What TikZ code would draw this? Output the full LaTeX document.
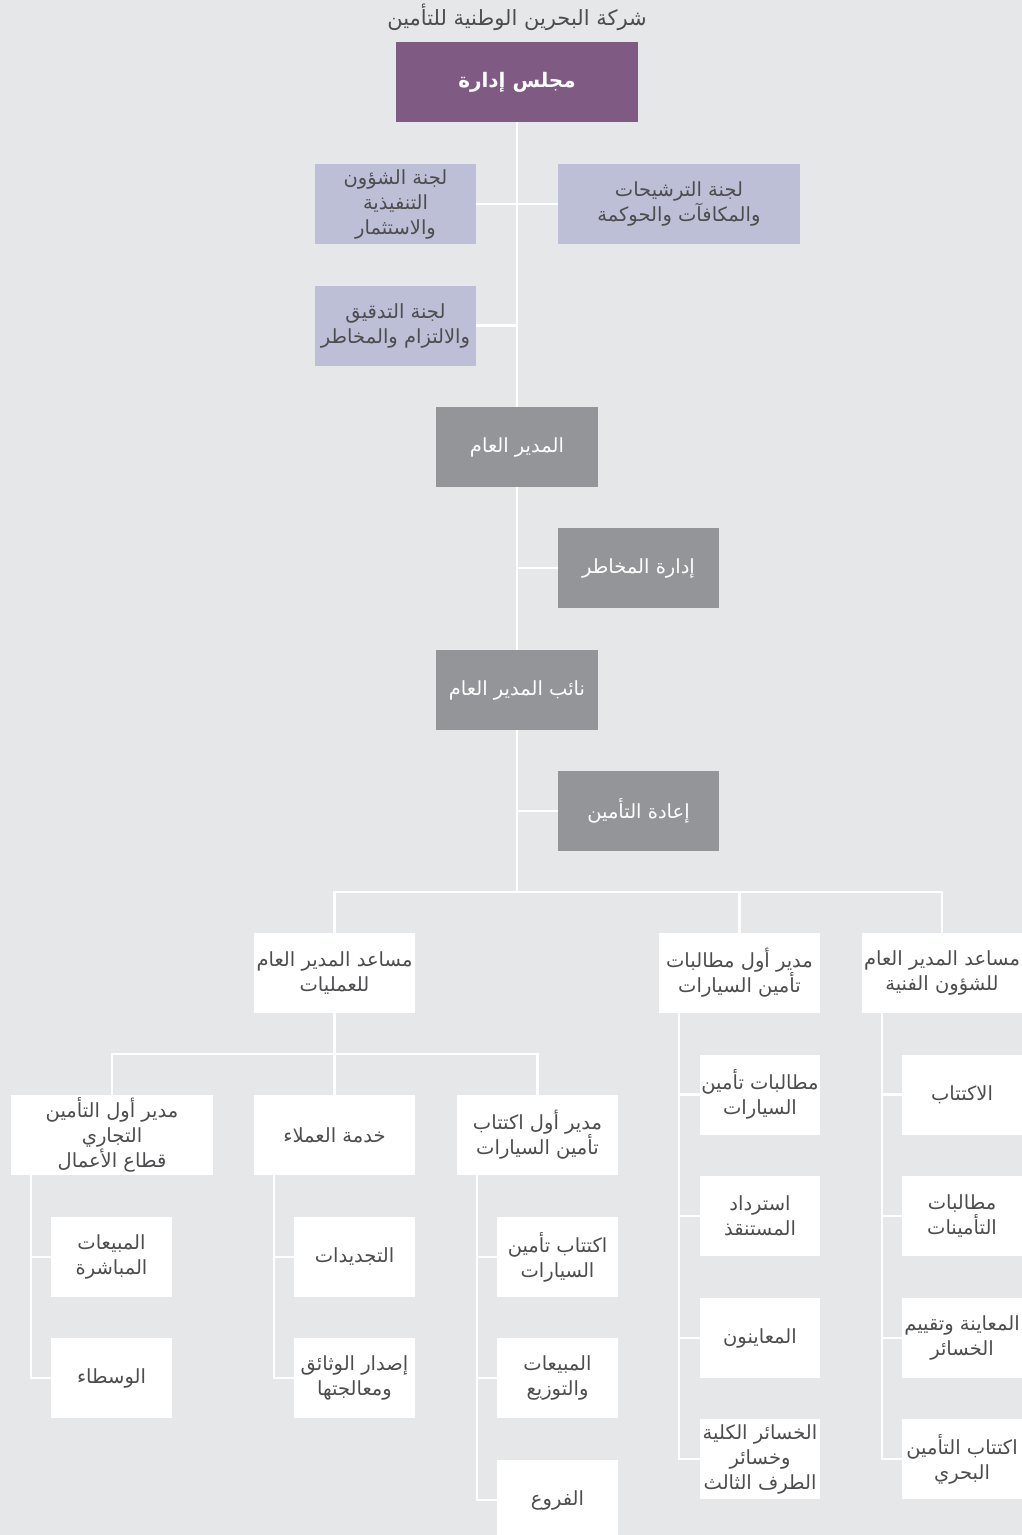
\documentclass[tikz,border=0pt]{standalone}
\usepackage{fontspec}
\newfontfamily\arabicfont[Script=Arabic]{DejaVu Sans}
\TeXXeTstate=1
\newcommand{\ar}[1]{\beginR #1\endR}
\definecolor{bgc}{HTML}{E6E7E9}
\definecolor{purp}{HTML}{7F5B84}
\definecolor{lav}{HTML}{BDBFD6}
\definecolor{grayb}{HTML}{939598}
\definecolor{txt}{HTML}{4D4D4F}
\tikzset{
  conn/.style={draw=white, line width=2.5pt},
  base/.style={rectangle, inner sep=0pt, align=center, text=txt,
    font=\arabicfont\fontsize{19.5}{25}\selectfont, minimum height=80pt},
  wbox/.style={base, fill=white, minimum width=161pt},
  sbox/.style={base, fill=white, minimum width=121pt},
  lbox/.style={base, fill=lav, minimum width=161pt},
  gbox/.style={base, fill=grayb, text=white, minimum width=162pt},
  pbox/.style={base, fill=purp, text=white, minimum width=242pt,
    font=\arabicfont\bfseries\fontsize{20}{25}\selectfont},
}
\begin{document}
\begin{tikzpicture}[x=1pt,y=-1pt]
\useasboundingbox (0,0) rectangle (1022,1535);
\fill[bgc] (0,0) rectangle (1022,1535);
\clip (0,0) rectangle (1022,1535);

% title
\node[base, minimum height=0pt, font=\arabicfont\fontsize{21}{25}\selectfont] (title) at (517,17) {\ar{شركة البحرين الوطنية للتأمين}};

% top chain
\node[pbox] (board) at (517,82) {\ar{مجلس إدارة}};
\node[lbox] (c1) at (395.5,204) {\ar{لجنة الشؤون}\\\ar{التنفيذية}\\\ar{والاستثمار}};
\node[lbox, minimum width=242pt] (c2) at (679,204) {\ar{لجنة الترشيحات}\\\ar{والمكافآت والحوكمة}};
\node[lbox] (c3) at (395.5,325.5) {\ar{لجنة التدقيق}\\\ar{والالتزام والمخاطر}};
\node[gbox] (gm) at (517,447) {\ar{المدير العام}};
\node[gbox, minimum width=161pt] (risk) at (638.5,568) {\ar{إدارة المخاطر}};
\node[gbox] (dgm) at (517,690) {\ar{نائب المدير العام}};
\node[gbox, minimum width=161pt] (reins) at (638.5,811) {\ar{إعادة التأمين}};

\coordinate (jn) at (517,892);
\coordinate (t1) at (517,325.5);
\coordinate (t2) at (517,568);
\coordinate (t3) at (517,811);

% level 2
\node[wbox] (ops) at (334.5,973) {\ar{مساعد المدير العام}\\\ar{للعمليات}};
\node[wbox] (mcl) at (739.5,973) {\ar{مدير أول مطالبات}\\\ar{تأمين السيارات}};
\node[wbox, minimum width=160pt] (tech) at (942,973) {\ar{مساعد المدير العام}\\\ar{للشؤون الفنية}};

% level 3 (operations)
\coordinate (opsj) at (334.5,1054);
\node[wbox, minimum width=202pt] (comm) at (112,1135) {\ar{مدير أول التأمين}\\\ar{التجاري}\\\ar{قطاع الأعمال}};
\node[wbox] (cs) at (334.5,1135) {\ar{خدمة العملاء}};
\node[wbox] (muw) at (537.5,1135) {\ar{مدير أول اكتتاب}\\\ar{تأمين السيارات}};

% commercial children
\node[sbox] (cm1) at (111.5,1257) {\ar{المبيعات}\\\ar{المباشرة}};
\node[sbox] (cm2) at (111.5,1378) {\ar{الوسطاء}};
% customer service children
\node[sbox] (cs1) at (354.5,1257) {\ar{التجديدات}};
\node[sbox] (cs2) at (354.5,1378) {\ar{إصدار الوثائق}\\\ar{ومعالجتها}};
% motor underwriting children
\node[sbox] (mu1) at (557.5,1257) {\ar{اكتتاب تأمين}\\\ar{السيارات}};
\node[sbox] (mu2) at (557.5,1378) {\ar{المبيعات}\\\ar{والتوزيع}};
\node[sbox] (mu3) at (557.5,1500) {\ar{الفروع}};
% motor claims children
\node[sbox, minimum width=120pt] (mc1) at (760,1094.5) {\ar{مطالبات تأمين}\\\ar{السيارات}};
\node[sbox, minimum width=120pt] (mc2) at (760,1216) {\ar{استرداد}\\\ar{المستنقذ}};
\node[sbox, minimum width=120pt] (mc3) at (760,1338) {\ar{المعاينون}};
\node[sbox, minimum width=120pt] (mc4) at (760,1459) {\ar{الخسائر الكلية}\\\ar{وخسائر}\\\ar{الطرف الثالث}};
% technical children
\node[sbox, minimum width=120pt] (tc1) at (962,1094.5) {\ar{الاكتتاب}};
\node[sbox, minimum width=120pt] (tc2) at (962,1216) {\ar{مطالبات}\\\ar{التأمينات}};
\node[sbox, minimum width=120pt] (tc3) at (962,1338) {\ar{المعاينة وتقييم}\\\ar{الخسائر}};
\node[sbox, minimum width=120pt] (tc4) at (962,1459) {\ar{اكتتاب التأمين}\\\ar{البحري}};

% connectors
\draw[conn] (board.south) -- (gm.north);
\draw[conn] (gm.south) -- (dgm.north);
\draw[conn] (dgm.south) -- (jn);
\draw[conn] (c1.east) -- (c2.west);
\draw[conn] (c3.east) -- (t1);
\draw[conn] (risk.west) -- (t2);
\draw[conn] (reins.west) -- (t3);
\draw[conn] (ops.north) |- (jn) -| (tech.north);
\draw[conn] (mcl.north) -- (mcl.north |- jn);
\draw[conn] (ops.south) -- (cs.north);
\draw[conn] (comm.north) |- (opsj) -| (muw.north);

\coordinate (cmL) at ([xshift=20pt]comm.south west);
\draw[conn] (cmL) |- (cm1.west);
\draw[conn] (cmL) |- (cm2.west);
\coordinate (csL) at ([xshift=20pt]cs.south west);
\draw[conn] (csL) |- (cs1.west);
\draw[conn] (csL) |- (cs2.west);
\coordinate (muL) at ([xshift=20pt]muw.south west);
\draw[conn] (muL) |- (mu1.west);
\draw[conn] (muL) |- (mu2.west);
\draw[conn] (muL) |- (mu3.west);
\coordinate (mcL) at ([xshift=20pt]mcl.south west);
\draw[conn] (mcL) |- (mc1.west);
\draw[conn] (mcL) |- (mc2.west);
\draw[conn] (mcL) |- (mc3.west);
\draw[conn] (mcL) |- (mc4.west);
\coordinate (tcL) at ([xshift=20pt]tech.south west);
\draw[conn] (tcL) |- (tc1.west);
\draw[conn] (tcL) |- (tc2.west);
\draw[conn] (tcL) |- (tc3.west);
\draw[conn] (tcL) |- (tc4.west);
\end{tikzpicture}
\end{document}
